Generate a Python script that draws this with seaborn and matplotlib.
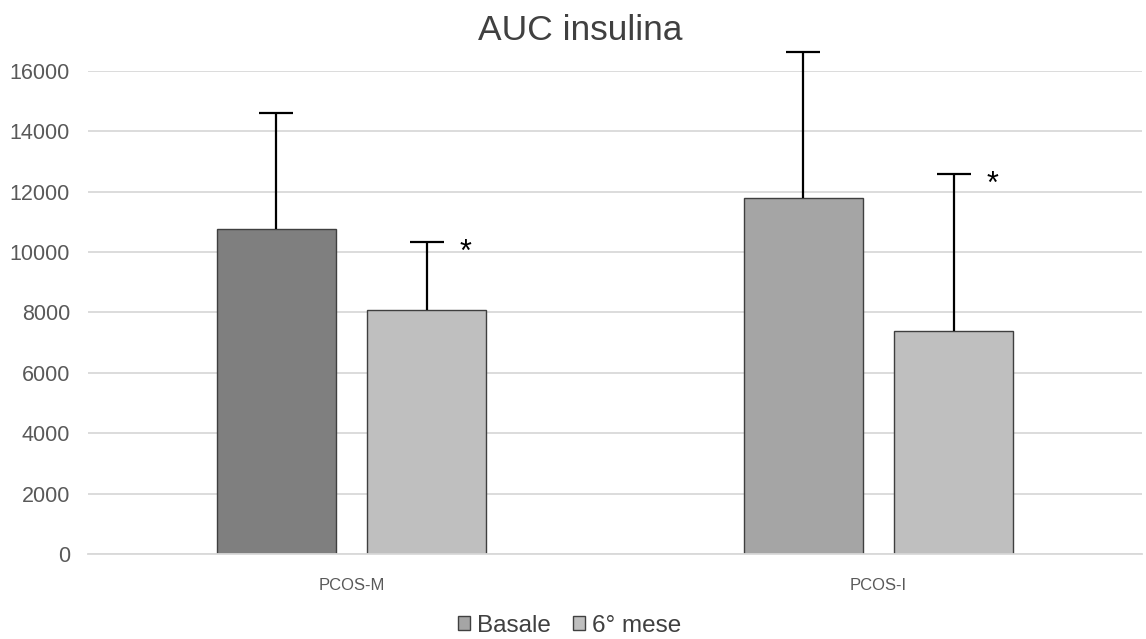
import pandas as pd
import matplotlib
matplotlib.use("Agg")
import matplotlib.pyplot as plt
import seaborn as sns
from matplotlib.patches import Patch

# Data
gruppi = ['PCOS-M', 'PCOS-I']
periodi = ['Basale', '6° mese']
auc_basale = [10770, 11780]
auc_6mese = [8080, 7400]
sd_basale = [3840, 4840]
sd_6mese = [2250, 5180]
significativo_6mese = ['*', '*']

df = pd.DataFrame({
    'gruppo': gruppi * 2,
    'periodo': [periodi[0]] * 2 + [periodi[1]] * 2,
    'auc': auc_basale + auc_6mese,
})

sns.set_style('white')
plt.rcParams['font.family'] = ['Liberation Sans', 'DejaVu Sans']

fig = plt.figure(figsize=(11.46, 6.39), dpi=100)
ax = fig.add_axes([0.0768, 0.133, 0.9197, 0.756])

palette = {'Basale': '#A5A5A5', '6° mese': '#BFBFBF'}
sns.barplot(data=df, x='gruppo', y='auc', hue='periodo', palette=palette,
            width=0.57, gap=0.21, edgecolor='#3F3F3F', linewidth=1,
            errorbar=None, legend=False, ax=ax, zorder=2)

# first Basale bar is darker in the original
bar_conts = list(ax.containers)
bar_conts[0][0].set_facecolor('#7F7F7F')

sds = [sd_basale, sd_6mese]
for k, cont in enumerate(bar_conts):
    for j, bar in enumerate(cont):
        xc = bar.get_x() + bar.get_width() / 2
        h = bar.get_height()
        eb = ax.errorbar(xc, h, yerr=[[0], [sds[k][j]]], fmt='none', ecolor='black',
                         elinewidth=1.6, capsize=12, capthick=1.6, zorder=3, clip_on=False)
        eb[1][0].set_visible(False)  # only upper cap
        if k == 1 and significativo_6mese[j]:
            ax.annotate(significativo_6mese[j], (xc, h + sds[k][j]), xytext=(28, -8),
                        textcoords='offset points', ha='center', va='center',
                        fontsize=22, color='black')

ax.set_xlim(-0.5, 1.5)
ax.set_ylim(0, 16000)
ax.set_yticks(range(0, 16001, 2000))
ax.yaxis.grid(True, color='#D9D9D9', linewidth=1.3, zorder=0)
ax.set_axisbelow(True)
for s in ['left', 'right', 'top']:
    ax.spines[s].set_visible(False)
ax.spines['bottom'].set_color('#D9D9D9')
ax.spines['bottom'].set_linewidth(1.3)
ax.tick_params(axis='y', length=0, labelsize=15.5, labelcolor='#595959', pad=13)
ax.tick_params(axis='x', length=0, labelsize=12, labelcolor='#595959', pad=17)
ax.set_xlabel('')
ax.set_ylabel('')

fig.text(0.506, 0.953, 'AUC insulina', ha='center', va='center', fontsize=25.5, color='#404040')

handles = [Patch(facecolor=palette[p], edgecolor='#404040', linewidth=1) for p in periodi]
fig.legend(handles, periodi, loc='center', bbox_to_anchor=(0.497, 0.021), ncol=2,
           frameon=False, fontsize=17.5, handlelength=0.5, handleheight=0.5,
           handletextpad=0.3, columnspacing=0.9, labelcolor='#404040')

fig.savefig('out.png', dpi=100)
